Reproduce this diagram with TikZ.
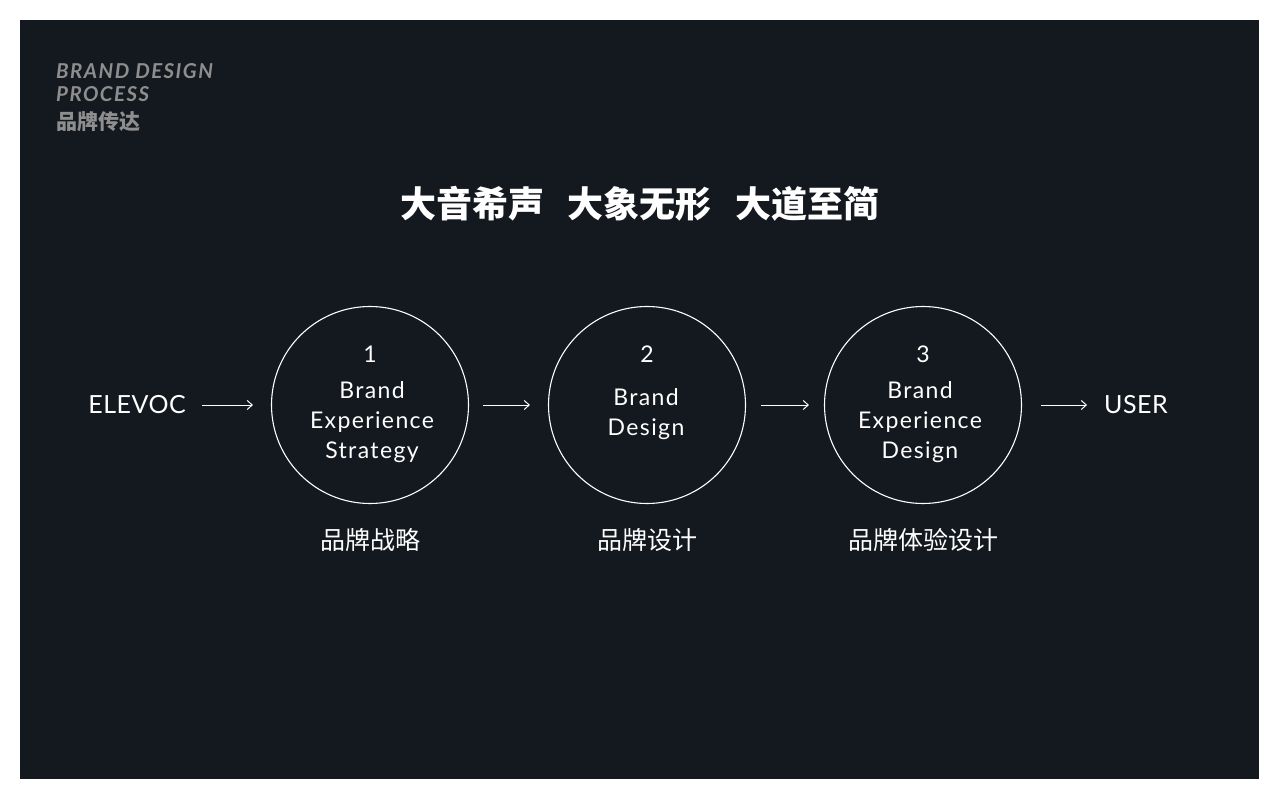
\documentclass[tikz,border=0pt]{standalone}
\usepackage{fontspec}
\usepackage{xcolor}
\usetikzlibrary{arrows.meta}
\setmainfont{Lato}
\newfontfamily\circfont{Lato}[LetterSpace=6]
\newfontfamily\endfont{Lato}[LetterSpace=2]
\newfontfamily\cjk{Noto Sans CJK SC}

\definecolor{panel}{HTML}{14181F}
\definecolor{headgray}{HTML}{8E8E8E}

\tikzset{
  stepcircle/.style={circle, draw=white, line width=1.1pt, minimum size=197pt, inner sep=0pt},
  steptext/.style={text=white, align=center, inner sep=0pt, font=\circfont\fontsize{23}{30}\selectfont},
  stepnum/.style={text=white, inner sep=0pt, font=\circfont\fontsize{23}{30}\selectfont},
  steplabel/.style={text=white, inner sep=0pt, font=\cjk\fontsize{25}{30}\selectfont},
  endtext/.style={text=white, inner sep=0pt, font=\endfont\fontsize{25}{30}\selectfont},
  headtext/.style={text=headgray, anchor=base west, inner sep=0pt, font=\bfseries\itshape\addfontfeatures{LetterSpace=7}\fontsize{20.5}{24}\selectfont},
  flowarrow/.style={draw=white, line width=1pt, -{Straight Barb[length=5pt,width=9pt]}, shorten <=16pt, shorten >=18pt}
}

\begin{document}
\begin{tikzpicture}[x=1pt, y=-1pt]
\useasboundingbox (0,0) rectangle (1280,800);
\fill[white] (0,0) rectangle (1280,800);
\fill[panel] (20,20) rectangle (1259,779);

% heading top left
\node[headtext] (headone) at (56,78) {BRAND DESIGN};
\node[headtext] (headtwo) at (56,102) {PROCESS};
\node[headtext, font=\cjk\bfseries\fontsize{21}{24}\selectfont] (headthree) at (56,129) {品牌传达};

% motto
\node[text=white, inner sep=0pt, font=\cjk\bfseries\fontsize{36}{40}\selectfont] (motto) at (640,204) {大音希声\hspace{0.65em}大象无形\hspace{0.65em}大道至简};

% the three steps
\node[stepcircle] (stepone) at (370,405) {};
\node[stepcircle] (steptwo) at (647,405) {};
\node[stepcircle] (stepthree) at (923,405) {};

\node[stepnum] (numone) at (370,354) {1};
\node[stepnum] (numtwo) at (647,354) {2};
\node[stepnum] (numthree) at (923,354) {3};

\node[steptext] (nameone) at (372,422) {Brand\\Experience\\Strategy};
\node[steptext] (nametwo) at (646,414) {Brand\\Design};
\node[steptext] (namethree) at (920,422) {Brand\\Experience\\Design};

\node[steplabel] (labelone) at (370,540) {品牌战略};
\node[steplabel] (labeltwo) at (647,540) {品牌设计};
\node[steplabel] (labelthree) at (923,540) {品牌体验设计};

% ends
\node[endtext] (elevoc) at (137,405) {ELEVOC};
\node[endtext] (user) at (1136,405) {USER};

\draw[flowarrow] (elevoc) -- (stepone);
\draw[flowarrow, shorten <=14pt] (stepone) -- (steptwo);
\draw[flowarrow, shorten <=15pt, shorten >=15pt] (steptwo) -- (stepthree);
\draw[flowarrow, shorten <=19pt, shorten >=17pt] (stepthree) -- (user);
\end{tikzpicture}
\end{document}
